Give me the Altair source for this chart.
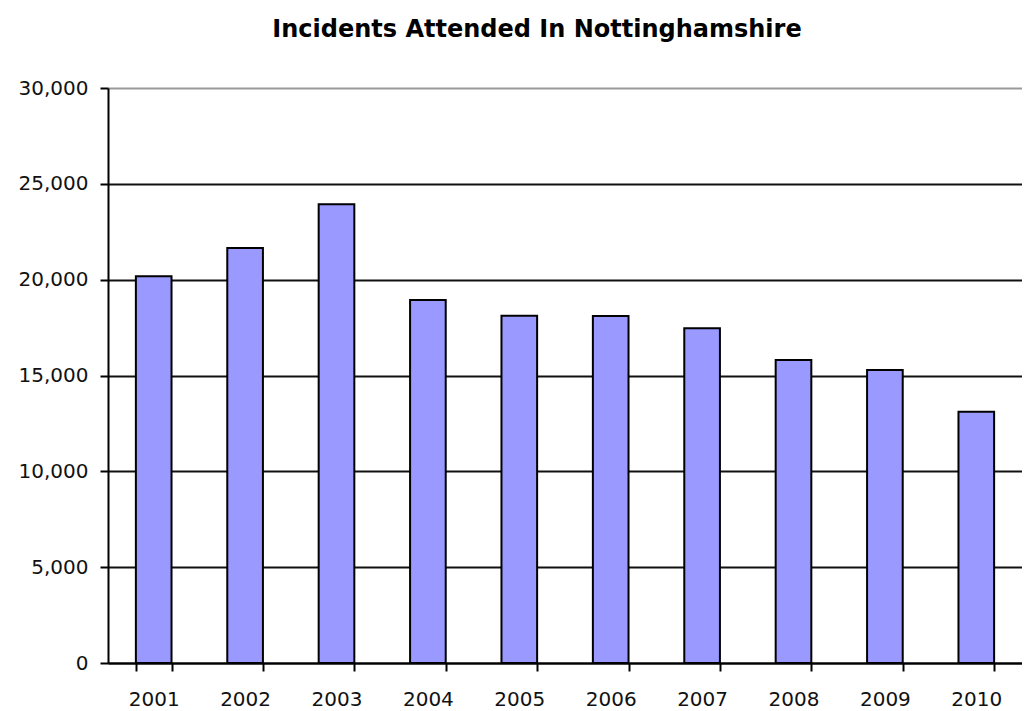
import altair as alt
import pandas as pd

years = ["2001", "2002", "2003", "2004", "2005", "2006", "2007", "2008", "2009", "2010"]
incidents = [20180, 21650, 23940, 18940, 18120, 18110, 17460, 15810, 15290, 13110]
y_ticks = [0, 5000, 10000, 15000, 20000, 25000, 30000]

df = pd.DataFrame({"Year": years, "Incidents": incidents})

chart = alt.Chart(df).mark_bar(
    color="#9999FF", stroke="#000000", strokeWidth=2
).encode(
    x=alt.X("Year:N", sort=years, title=None,
            scale=alt.Scale(paddingInner=0.61, paddingOuter=0.305),
            axis=alt.Axis(labelAngle=0, tickBand="extent", tickSize=8, tickWidth=2,
                          tickColor="#000", domainColor="#000", domainWidth=2,
                          labelPadding=18, labelFontSize=20, labelColor="#111",
                          labelFont="DejaVu Sans", grid=False)),
    y=alt.Y("Incidents:Q", title=None,
            scale=alt.Scale(domain=[0, 30000], nice=False),
            axis=alt.Axis(values=y_ticks, format=",d",
                          tickSize=8, tickWidth=2, tickColor="#000", domainColor="#000",
                          domainWidth=2, labelPadding=12, labelFontSize=20,
                          labelColor="#111", labelFont="DejaVu Sans",
                          gridColor={"condition": {"test": "datum.value === 30000", "value": "#999999"}, "value": "#111111"},
                          gridWidth=1.8)),
).properties(
    width=914,
    height=575,
    title=alt.TitleParams("Incidents Attended In Nottinghamshire", font="DejaVu Sans",
                          fontSize=24, fontWeight="bold", color="#000", anchor="middle",
                          dx=-28, offset=36),
    padding={"left": 10, "top": 10, "right": 0, "bottom": 0},
).configure_view(stroke=None).configure(background="white")

chart.save("out.html", embed_options={"renderer": "svg", "actions": False})
